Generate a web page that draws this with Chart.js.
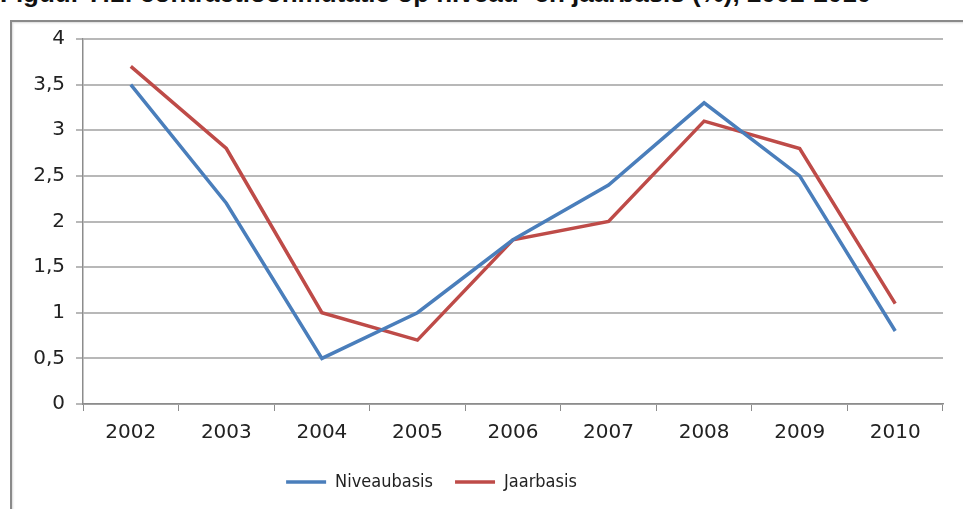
<!DOCTYPE html>
<html>
<head>
<meta charset="utf-8">
<script src="https://cdn.jsdelivr.net/npm/chart.js@4/dist/chart.umd.min.js"></script>
<style>
  html, body { margin: 0; padding: 0; background: #fff; overflow: hidden; }
  #wrap { position: relative; width: 963px; height: 509px; overflow: hidden; }
  #title {
    position: absolute; left: 0; top: -22px; white-space: nowrap; line-height: 30px;
    font: bold 26px "Liberation Sans", Arial, sans-serif; color: #111;
  }
  #frame {
    position: absolute; left: 10px; top: 20px; width: 980px; height: 520px;
    border-left: 2px solid #8a8a8a; border-top: 2px solid #8a8a8a;
    box-shadow: inset 1px 1px 2px rgba(0,0,0,0.15);
  }
  canvas { position: absolute; left: 0; top: 0; }
</style>
</head>
<body>
<div id="wrap">
  <div id="title">Figuur 7.1: contractloonmutatie op niveau- en jaarbasis (%), 2002-2010</div>
  <div id="frame"></div>
  <canvas id="chart" width="963" height="509"></canvas>
</div>
<script>
// Chart data
const years = ['2002', '2003', '2004', '2005', '2006', '2007', '2008', '2009', '2010'];
const niveaubasis = [3.5, 2.2, 0.5, 1.0, 1.8, 2.4, 3.3, 2.5, 0.8];
const jaarbasis = [3.7, 2.8, 1.0, 0.7, 1.8, 2.0, 3.1, 2.8, 1.1];
const yTicks = [0, 0.5, 1, 1.5, 2, 2.5, 3, 3.5, 4];

const colors = {
    blue: '#4a7ebb',
    red: '#be4b48',
    grid: '#b8b8b8',
    axis: '#8c8c8c',
    text: '#222222'
};

// Excel puts the legend a bit left of centre; nudge the legend box
const legendShift = {
    id: 'legendShift',
    afterLayout(chart) {
        const lg = chart.legend;
        if (!lg) return;
        lg.left -= 40;
        lg.right -= 40;
    }
};

const ctx = document.getElementById('chart').getContext('2d');

new Chart(ctx, {
    type: 'line',
    data: {
        labels: years,
        datasets: [
            {
                label: 'Niveaubasis',
                data: niveaubasis,
                borderColor: colors.blue,
                backgroundColor: colors.blue,
                borderWidth: 3.5,
                pointRadius: 0,
                tension: 0
            },
            {
                label: 'Jaarbasis',
                data: jaarbasis,
                borderColor: colors.red,
                backgroundColor: colors.red,
                borderWidth: 3.5,
                pointRadius: 0,
                tension: 0
            }
        ]
    },
    plugins: [legendShift],
    options: {
        responsive: false,
        animation: false,
        layout: { padding: { left: 0, right: 20, top: 39, bottom: 8 } },
        plugins: {
            tooltip: { enabled: false },
            legend: {
                position: 'bottom',
                labels: {
                    usePointStyle: true,
                    pointStyle: 'line',
                    pointStyleWidth: 40,
                    padding: 22,
                    color: colors.text,
                    font: { family: "'DejaVu Sans Condensed', 'DejaVu Sans', sans-serif", size: 18 }
                }
            }
        },
        scales: {
            x: {
                offset: true,
                grid: {
                    offset: true,
                    drawOnChartArea: false,
                    drawTicks: true,
                    tickLength: 7,
                    color: colors.axis
                },
                border: { color: colors.axis, width: 1.5 },
                ticks: {
                    padding: 10,
                    color: colors.text,
                    font: { family: "'DejaVu Sans', Verdana, sans-serif", size: 20 }
                },
                afterFit: (scale) => { scale.height = 47; }
            },
            y: {
                min: 0,
                max: 4,
                afterBuildTicks: (scale) => { scale.ticks = yTicks.map(v => ({ value: v })); },
                grid: {
                    color: colors.grid,
                    lineWidth: 2,
                    tickLength: 7
                },
                border: { color: colors.axis, width: 1.5 },
                ticks: {
                    padding: 11,
                    color: colors.text,
                    font: { family: "'DejaVu Sans', Verdana, sans-serif", size: 20 },
                    callback: (val) => String(val).replace('.', ',')
                },
                afterFit: (scale) => { scale.width = 83; }
            }
        }
    }
});
</script>
</body>
</html>
